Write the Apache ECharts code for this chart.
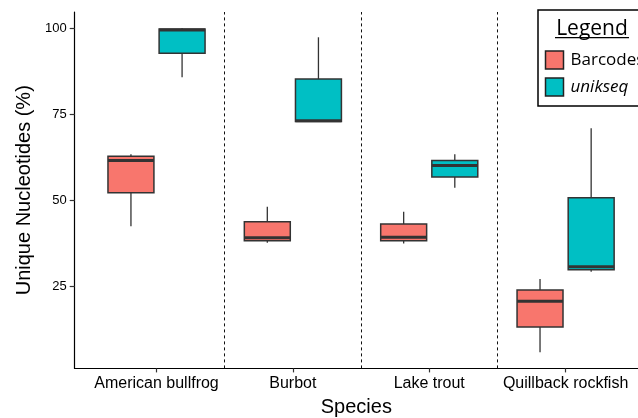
<!DOCTYPE html>
<html>
<head>
<meta charset="utf-8">
<script src="https://cdn.jsdelivr.net/npm/echarts@6/dist/echarts.min.js"></script>
<style>
html,body{margin:0;padding:0;background:#fff;}
#chart{width:638px;height:418px;}
</style>
</head>
<body>
<div id="chart"></div>
<script>
// ---- data ----
const categories = ["American bullfrog", "Burbot", "Lake trout", "Quillback rockfish"];
const seriesNames = ["Barcodes", "unikseq"];
// [lower whisker, Q1, median, Q3, upper whisker]
const barcodes = [
  [42.5, 52.2, 61.6, 62.8, 63.4],
  [37.7, 38.3, 39.2, 43.8, 48.2],
  [37.5, 38.3, 39.3, 43.2, 46.7],
  [6.0, 13.3, 20.8, 24.0, 27.2]
];
const unikseq = [
  [85.7, 92.7, 99.4, 99.7, 99.9],
  [72.9, 72.9, 73.1, 85.2, 97.3],
  [53.7, 56.8, 60.1, 61.6, 63.4],
  [29.3, 29.9, 30.8, 50.8, 70.9]
];
const yTicks = [25, 50, 75, 100];
const separators = [1.5, 2.5, 3.5];
const colors = ["#F8766D", "#00BFC4"];

// ---- chart ----
const chart = echarts.init(document.getElementById('chart'), null, {renderer: 'canvas'});
const halfW = 0.1685;
const dodge = 0.1875;
const edge = '#333333';

function boxRenderer(offset) {
  return function (params, api) {
    const x = api.value(0) + offset;
    const lo = api.value(1), q1 = api.value(2), med = api.value(3), q3 = api.value(4), hi = api.value(5);
    const xl = api.coord([x - halfW, q1])[0];
    const xr = api.coord([x + halfW, q1])[0];
    const xc = api.coord([x, q1])[0];
    const yLo = api.coord([x, lo])[1];
    const yQ1 = api.coord([x, q1])[1];
    const yMed = api.coord([x, med])[1];
    const yQ3 = api.coord([x, q3])[1];
    const yHi = api.coord([x, hi])[1];
    const color = api.visual('color');
    return {
      type: 'group',
      children: [
        {type: 'line', shape: {x1: xc, y1: yHi, x2: xc, y2: yQ3}, style: {stroke: edge, lineWidth: 1.3}},
        {type: 'line', shape: {x1: xc, y1: yQ1, x2: xc, y2: yLo}, style: {stroke: edge, lineWidth: 1.3}},
        {type: 'rect', shape: {x: xl, y: yQ3, width: xr - xl, height: yQ1 - yQ3}, style: {fill: color, stroke: edge, lineWidth: 1.5}},
        {type: 'line', shape: {x1: xl, y1: yMed, x2: xr, y2: yMed}, style: {stroke: edge, lineWidth: 3}}
      ]
    };
  };
}

const legendGraphic = [
  {type: 'rect', shape: {x: 538, y: 10, width: 120, height: 96}, style: {fill: '#fff', stroke: '#000', lineWidth: 1.5}, z: 100},
  {type: 'text', x: 592, y: 29, style: {text: 'Legend', font: '21px "Open Sans"', fill: '#000', align: 'center', verticalAlign: 'middle'}, z: 101},
  {type: 'line', shape: {x1: 555, y1: 37.7, x2: 629, y2: 37.7}, style: {stroke: '#000', lineWidth: 1.3}, z: 101},
  {type: 'rect', shape: {x: 545.5, y: 51, width: 18, height: 18}, style: {fill: colors[0], stroke: '#222', lineWidth: 1.5}, z: 101},
  {type: 'rect', shape: {x: 545.5, y: 78, width: 18, height: 18}, style: {fill: colors[1], stroke: '#222', lineWidth: 1.5}, z: 101},
  {type: 'text', x: 570.5, y: 60.5, style: {text: seriesNames[0], font: '17px "Open Sans"', fill: '#000', align: 'left', verticalAlign: 'middle'}, z: 101},
  {type: 'text', x: 570.5, y: 87.5, style: {text: seriesNames[1], font: 'italic 17px "Open Sans"', fill: '#000', align: 'left', verticalAlign: 'middle'}, z: 101}
];

chart.setOption({
  animation: false,
  backgroundColor: '#fff',
  grid: {left: 74.7, top: 12.1, width: 563.3, height: 356.3, containLabel: false, outerBoundsMode: 'none'},
  xAxis: {
    type: 'value', min: 0.4, max: 4.531,
    name: 'Species', nameLocation: 'middle', nameGap: 29,
    nameTextStyle: {fontFamily: 'Liberation Sans', fontSize: 20, color: '#000'},
    axisLine: {show: true, onZero: false, lineStyle: {color: '#000', width: 1.2}},
    axisTick: {show: true, length: 4, customValues: [1, 2, 3, 4], lineStyle: {color: '#333', width: 1.2}},
    axisLabel: {customValues: [1, 2, 3, 4], margin: 7, fontFamily: 'Liberation Sans', fontSize: 16, color: '#000',
      formatter: function (v) { return categories[Math.round(v) - 1] || ''; }},
    splitLine: {show: false}
  },
  yAxis: {
    type: 'value', min: 1.3, max: 104.6,
    name: 'Unique Nucleotides (%)', nameLocation: 'middle', nameGap: 40,
    nameTextStyle: {fontFamily: 'Liberation Sans', fontSize: 20, color: '#000'},
    axisLine: {show: true, onZero: false, lineStyle: {color: '#000', width: 1.2}},
    axisTick: {show: true, length: 5, customValues: yTicks, lineStyle: {color: '#333', width: 1.2}},
    axisLabel: {customValues: yTicks, margin: 8, fontFamily: 'Liberation Sans', fontSize: 13, color: '#000'},
    splitLine: {show: false}
  },
  series: [
    {
      name: seriesNames[0], type: 'custom', color: colors[0],
      renderItem: boxRenderer(-dodge),
      encode: {x: 0, y: [1, 2, 3, 4, 5]},
      data: barcodes.map((d, i) => [i + 1].concat(d)),
      markLine: {
        silent: true, symbol: 'none', label: {show: false},
        lineStyle: {color: '#111', type: [3, 3], width: 1},
        data: separators.map(v => ({xAxis: v}))
      }
    },
    {
      name: seriesNames[1], type: 'custom', color: colors[1],
      renderItem: boxRenderer(dodge),
      encode: {x: 0, y: [1, 2, 3, 4, 5]},
      data: unikseq.map((d, i) => [i + 1].concat(d))
    }
  ],
  graphic: legendGraphic
});
</script>
</body>
</html>
